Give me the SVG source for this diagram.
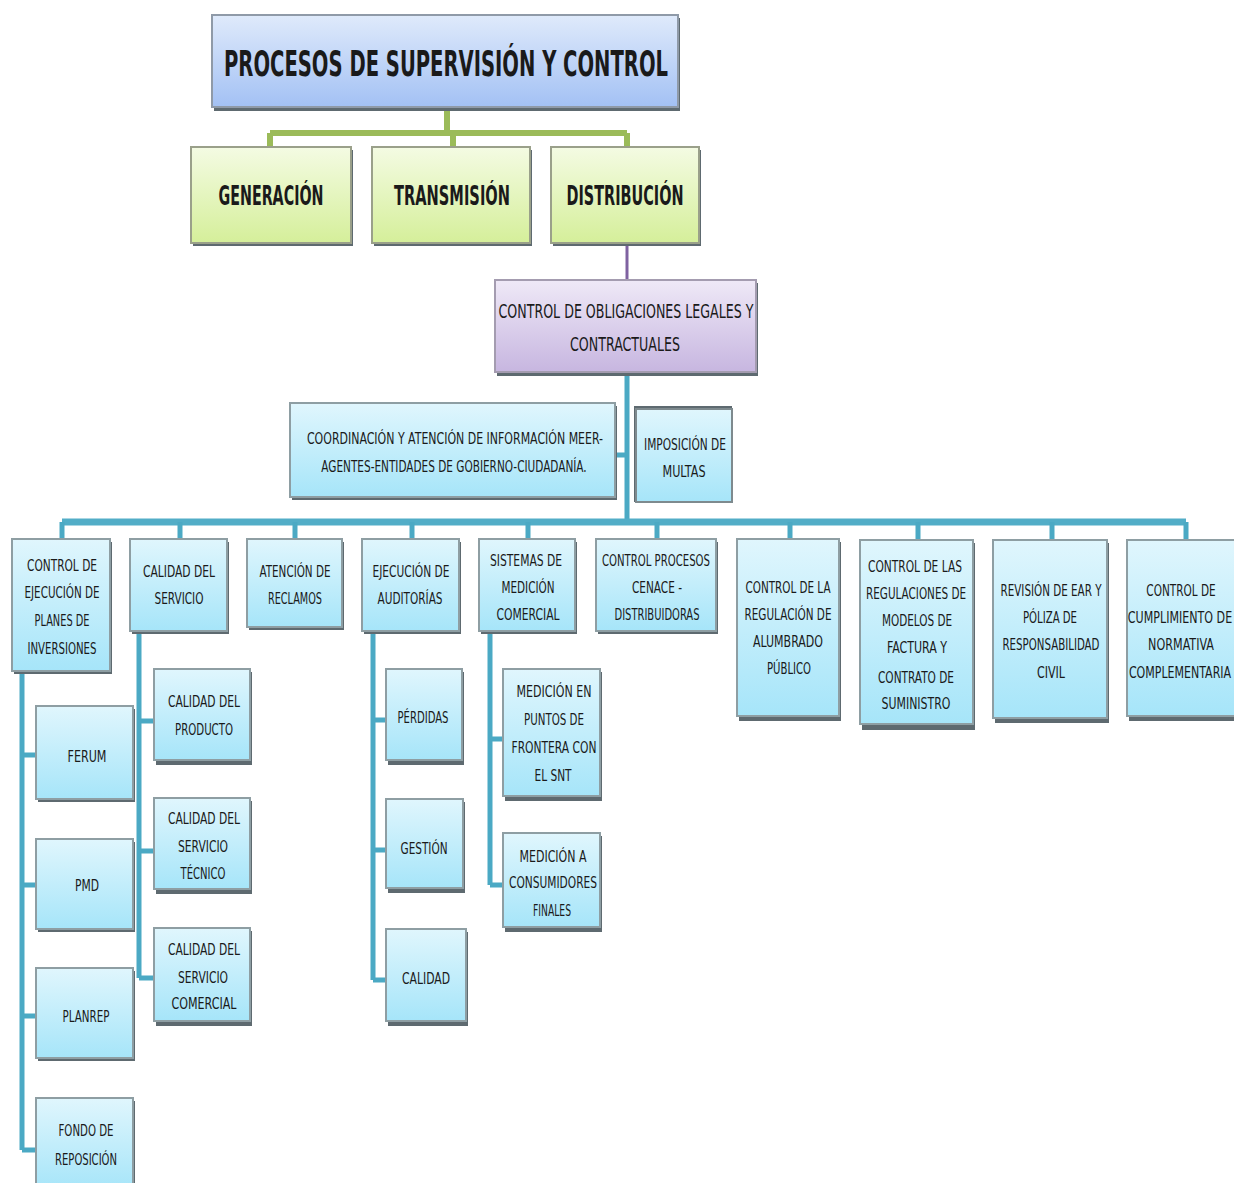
<svg xmlns="http://www.w3.org/2000/svg" width="1234" height="1183" viewBox="0 0 1234 1183">
  <defs>
    <linearGradient id="gBlue" x1="0" y1="0" x2="0" y2="1">
      <stop offset="0" stop-color="#e0f6fd"/>
      <stop offset="1" stop-color="#a6e5f9"/>
    </linearGradient>
    <linearGradient id="gTitle" x1="0" y1="0" x2="0" y2="1">
      <stop offset="0" stop-color="#dfeafb"/>
      <stop offset="1" stop-color="#a3c1f4"/>
    </linearGradient>
    <linearGradient id="gGreen" x1="0" y1="0" x2="0" y2="1">
      <stop offset="0" stop-color="#f4fbe3"/>
      <stop offset="1" stop-color="#d5ef9a"/>
    </linearGradient>
    <linearGradient id="gPurple" x1="0" y1="0" x2="0" y2="1">
      <stop offset="0" stop-color="#efe9f7"/>
      <stop offset="1" stop-color="#c7b6e0"/>
    </linearGradient>
  </defs>
  <style>
    .shadow { fill: #5e6a70; }
    .box { fill: url(#gBlue); stroke: #8e9ea3; stroke-width: 2; }
    .title { fill: url(#gTitle); stroke: #8f9aa8; stroke-width: 2; }
    .green { fill: url(#gGreen); stroke: #9aa08a; stroke-width: 2; }
    .purple { fill: url(#gPurple); stroke: #a49cb0; stroke-width: 2; }
    text { font-family: "DejaVu Sans Condensed", "Liberation Sans", sans-serif; fill: #1a1a1a; text-anchor: middle; }
    .t { font-size: 16px; }
    .big { font-size: 36px; font-weight: bold; }
    .mid { font-size: 26px; font-weight: bold; }
    .pt { font-size: 19px; }
    .teal { fill: none; stroke: #4ba9c4; stroke-width: 5; stroke-linejoin: miter; }
    .bus { fill: none; stroke: #52adc7; stroke-width: 7; }
    .gl { fill: none; stroke: #9bbb59; stroke-width: 6; }
    .pl { fill: none; stroke: #7f62a1; stroke-width: 3; }
  </style>

  <!-- connectors -->
  <g id="connectors">
    <path class="gl" d="M447 108 V133 M270 133 H627 M270 133 V147 M453 133 V147 M627 133 V147"/>
    <path class="pl" d="M627 243 V280"/>
    <path class="teal" d="M627 373 V522 M615 455 H627"/>
    <path class="bus" d="M62 522 H1186"/>
    <path class="teal" d="M62 522 V539 M180 522 V539 M295 522 V539 M412 522 V539 M528 522 V539 M657 522 V539 M790 522 V539 M918 522 V540 M1052 522 V540 M1186 522 V540"/>
    <path class="teal" d="M22 671 V1150 M22 755 H36 M22 885 H36 M22 1016 H36 M22 1150 H36"/>
    <path class="teal" d="M139 631 V978 M139 721 H154 M139 851 H154 M139 978 H154"/>
    <path class="teal" d="M373 631 V980 M373 720 H386 M373 850 H386 M373 980 H386"/>
    <path class="teal" d="M490 631 V885 M490 739 H503 M490 885 H503"/>
  </g>

  <!-- top level -->
  <g id="n-title">
    <rect class="shadow" x="214" y="18" width="466" height="93"/>
    <rect class="title" x="212" y="15" width="466" height="92"/>
    <text class="big" x="446" y="76" textLength="444" lengthAdjust="spacingAndGlyphs">PROCESOS DE SUPERVISIÓN Y CONTROL</text>
  </g>
  <g id="n-generacion">
    <rect class="shadow" x="193" y="150" width="160" height="96"/>
    <rect class="green" x="191" y="147" width="160" height="96"/>
    <text class="mid" x="271" y="205" textLength="105" lengthAdjust="spacingAndGlyphs">GENERACIÓN</text>
  </g>
  <g id="n-transmision">
    <rect class="shadow" x="374" y="150" width="158" height="96"/>
    <rect class="green" x="372" y="147" width="158" height="96"/>
    <text class="mid" x="452" y="205" textLength="116" lengthAdjust="spacingAndGlyphs">TRANSMISIÓN</text>
  </g>
  <g id="n-distribucion">
    <rect class="shadow" x="553" y="150" width="148" height="96"/>
    <rect class="green" x="551" y="147" width="148" height="96"/>
    <text class="mid" x="625" y="205" textLength="117" lengthAdjust="spacingAndGlyphs">DISTRIBUCIÓN</text>
  </g>
  <g id="n-obligaciones">
    <rect class="shadow" x="497" y="283" width="261" height="93"/>
    <rect class="purple" x="495" y="280" width="261" height="92"/>
    <text class="pt" x="626" y="318" textLength="255" lengthAdjust="spacingAndGlyphs">CONTROL DE OBLIGACIONES LEGALES Y</text>
    <text class="pt" x="625" y="351" textLength="110" lengthAdjust="spacingAndGlyphs">CONTRACTUALES</text>
  </g>
  <g id="n-coordinacion">
    <rect class="shadow" x="292" y="406" width="325" height="94"/>
    <rect class="box" x="290" y="403" width="325" height="94"/>
    <g transform="translate(455 444) scale(0.7 1)">
      <text class="t" x="0" y="0" textLength="423" lengthAdjust="spacingAndGlyphs">COORDINACIÓN  Y ATENCIÓN DE INFORMACIÓN  MEER-</text>
    </g>
    <g transform="translate(454 472) scale(0.7 1)">
      <text class="t" x="0" y="0" textLength="379" lengthAdjust="spacingAndGlyphs">AGENTES-ENTIDADES DE GOBIERNO-CIUDADANÍA.</text>
    </g>
  </g>
  <g id="n-multas">
    <rect class="shadow" x="634" y="406" width="98" height="96"/>
    <rect class="box" x="636" y="409" width="96" height="93" style="stroke:#7e8a8e"/>
    <text class="t" x="685" y="450" textLength="82" lengthAdjust="spacingAndGlyphs">IMPOSICIÓN  DE</text>
    <text class="t" x="684" y="477" textLength="43" lengthAdjust="spacingAndGlyphs">MULTAS</text>
  </g>

  <!-- second level -->
  <g id="n-planes">
    <rect class="shadow" x="14" y="542" width="98" height="132"/>
    <rect class="box" x="12" y="539" width="98" height="132"/>
    <text class="t" x="62" y="571" textLength="70" lengthAdjust="spacingAndGlyphs">CONTROL  DE</text>
    <text class="t" x="62" y="598" textLength="75" lengthAdjust="spacingAndGlyphs">EJECUCIÓN DE</text>
    <text class="t" x="62" y="626" textLength="55" lengthAdjust="spacingAndGlyphs">PLANES  DE</text>
    <text class="t" x="62" y="654" textLength="69" lengthAdjust="spacingAndGlyphs">INVERSIONES</text>
  </g>
  <g id="n-calidad-servicio">
    <rect class="shadow" x="132" y="542" width="97" height="92"/>
    <rect class="box" x="130" y="539" width="97" height="92"/>
    <text class="t" x="179" y="577" textLength="72" lengthAdjust="spacingAndGlyphs">CALIDAD DEL</text>
    <text class="t" x="179" y="604" textLength="49" lengthAdjust="spacingAndGlyphs">SERVICIO</text>
  </g>
  <g id="n-reclamos">
    <rect class="shadow" x="249" y="542" width="95" height="88"/>
    <rect class="box" x="247" y="539" width="95" height="88"/>
    <text class="t" x="295" y="577" textLength="71" lengthAdjust="spacingAndGlyphs">ATENCIÓN  DE</text>
    <text class="t" x="295" y="604" textLength="54" lengthAdjust="spacingAndGlyphs">RECLAMOS</text>
  </g>
  <g id="n-auditorias">
    <rect class="shadow" x="364" y="542" width="97" height="92"/>
    <rect class="box" x="362" y="539" width="97" height="92"/>
    <text class="t" x="411" y="577" textLength="77" lengthAdjust="spacingAndGlyphs">EJECUCIÓN  DE</text>
    <text class="t" x="410" y="604" textLength="65" lengthAdjust="spacingAndGlyphs">AUDITORÍAS</text>
  </g>
  <g id="n-medicion">
    <rect class="shadow" x="481" y="542" width="96" height="92"/>
    <rect class="box" x="479" y="539" width="96" height="92"/>
    <text class="t" x="526" y="566" textLength="72" lengthAdjust="spacingAndGlyphs">SISTEMAS DE</text>
    <text class="t" x="528" y="593" textLength="53" lengthAdjust="spacingAndGlyphs">MEDICIÓN</text>
    <text class="t" x="528" y="620" textLength="63" lengthAdjust="spacingAndGlyphs">COMERCIAL</text>
  </g>
  <g id="n-cenace">
    <rect class="shadow" x="598" y="542" width="120" height="92"/>
    <rect class="box" x="596" y="539" width="120" height="92"/>
    <text class="t" x="656" y="566" textLength="108" lengthAdjust="spacingAndGlyphs">CONTROL  PROCESOS</text>
    <text class="t" x="657" y="593" textLength="50" lengthAdjust="spacingAndGlyphs">CENACE -</text>
    <text class="t" x="657" y="620" textLength="85" lengthAdjust="spacingAndGlyphs">DISTRIBUIDORAS</text>
  </g>
  <g id="n-alumbrado">
    <rect class="shadow" x="739" y="542" width="102" height="179"/>
    <rect class="box" x="737" y="539" width="102" height="177"/>
    <text class="t" x="788" y="593" textLength="85" lengthAdjust="spacingAndGlyphs">CONTROL DE LA</text>
    <text class="t" x="788" y="620" textLength="87" lengthAdjust="spacingAndGlyphs">REGULACIÓN  DE</text>
    <text class="t" x="788" y="647" textLength="70" lengthAdjust="spacingAndGlyphs">ALUMBRADO</text>
    <text class="t" x="789" y="674" textLength="44" lengthAdjust="spacingAndGlyphs">PÚBLICO</text>
  </g>
  <g id="n-factura">
    <rect class="shadow" x="862" y="543" width="113" height="187"/>
    <rect class="box" x="860" y="540" width="113" height="184"/>
    <text class="t" x="915" y="572" textLength="94" lengthAdjust="spacingAndGlyphs">CONTROL  DE   LAS</text>
    <text class="t" x="916" y="599" textLength="100" lengthAdjust="spacingAndGlyphs">REGULACIONES   DE</text>
    <text class="t" x="917" y="626" textLength="70" lengthAdjust="spacingAndGlyphs">MODELOS  DE</text>
    <text class="t" x="917" y="653" textLength="60" lengthAdjust="spacingAndGlyphs">FACTURA  Y</text>
    <text class="t" x="916" y="683" textLength="76" lengthAdjust="spacingAndGlyphs">CONTRATO  DE</text>
    <text class="t" x="916" y="709" textLength="69" lengthAdjust="spacingAndGlyphs">SUMINISTRO</text>
  </g>
  <g id="n-ear">
    <rect class="shadow" x="995" y="543" width="114" height="180"/>
    <rect class="box" x="993" y="540" width="114" height="178"/>
    <text class="t" x="1051" y="596" textLength="101" lengthAdjust="spacingAndGlyphs">REVISIÓN DE  EAR Y</text>
    <text class="t" x="1050" y="623" textLength="54" lengthAdjust="spacingAndGlyphs">PÓLIZA DE</text>
    <text class="t" x="1051" y="650" textLength="97" lengthAdjust="spacingAndGlyphs">RESPONSABILIDAD</text>
    <text class="t" x="1051" y="678" textLength="28" lengthAdjust="spacingAndGlyphs">CIVIL</text>
  </g>
  <g id="n-normativa">
    <rect class="shadow" x="1129" y="543" width="110" height="178"/>
    <rect class="box" x="1127" y="540" width="110" height="176"/>
    <g transform="translate(1181 596) scale(0.7 1)">
      <text class="t" x="0" y="0" textLength="99" lengthAdjust="spacingAndGlyphs">CONTROL  DE</text>
    </g>
    <g transform="translate(1180 623) scale(0.7 1)">
      <text class="t" x="0" y="0" textLength="149" lengthAdjust="spacingAndGlyphs">CUMPLIMIENTO  DE</text>
    </g>
    <g transform="translate(1181 650) scale(0.7 1)">
      <text class="t" x="0" y="0" textLength="94" lengthAdjust="spacingAndGlyphs">NORMATIVA</text>
    </g>
    <g transform="translate(1180 678) scale(0.7 1)">
      <text class="t" x="0" y="0" textLength="146" lengthAdjust="spacingAndGlyphs">COMPLEMENTARIA</text>
    </g>
  </g>

  <!-- investment plans -->
  <g id="n-ferum">
    <rect class="shadow" x="38" y="709" width="97" height="93"/>
    <rect class="box" x="36" y="706" width="97" height="93"/>
    <text class="t" x="87" y="762" textLength="39" lengthAdjust="spacingAndGlyphs">FERUM</text>
  </g>
  <g id="n-pmd">
    <rect class="shadow" x="38" y="842" width="97" height="90"/>
    <rect class="box" x="36" y="839" width="97" height="90"/>
    <text class="t" x="87" y="891" textLength="24" lengthAdjust="spacingAndGlyphs">PMD</text>
  </g>
  <g id="n-planrep">
    <rect class="shadow" x="38" y="971" width="97" height="90"/>
    <rect class="box" x="36" y="968" width="97" height="90"/>
    <text class="t" x="86" y="1022" textLength="47" lengthAdjust="spacingAndGlyphs">PLANREP</text>
  </g>
  <g id="n-fondo">
    <rect class="shadow" x="38" y="1101" width="97" height="92"/>
    <rect class="box" x="36" y="1098" width="97" height="92"/>
    <text class="t" x="86" y="1136" textLength="55" lengthAdjust="spacingAndGlyphs">FONDO DE</text>
    <text class="t" x="86" y="1165" textLength="62" lengthAdjust="spacingAndGlyphs">REPOSICIÓN</text>
  </g>

  <!-- service quality -->
  <g id="n-producto">
    <rect class="shadow" x="156" y="672" width="96" height="93"/>
    <rect class="box" x="154" y="669" width="96" height="91"/>
    <text class="t" x="204" y="707" textLength="72" lengthAdjust="spacingAndGlyphs">CALIDAD DEL</text>
    <text class="t" x="204" y="735" textLength="58" lengthAdjust="spacingAndGlyphs">PRODUCTO</text>
  </g>
  <g id="n-tecnico">
    <rect class="shadow" x="156" y="801" width="96" height="93"/>
    <rect class="box" x="154" y="798" width="96" height="91"/>
    <text class="t" x="204" y="824" textLength="72" lengthAdjust="spacingAndGlyphs">CALIDAD DEL</text>
    <text class="t" x="203" y="852" textLength="50" lengthAdjust="spacingAndGlyphs">SERVICIO</text>
    <text class="t" x="203" y="879" textLength="45" lengthAdjust="spacingAndGlyphs">TÉCNICO</text>
  </g>
  <g id="n-comercial">
    <rect class="shadow" x="156" y="931" width="96" height="95"/>
    <rect class="box" x="154" y="928" width="96" height="93"/>
    <text class="t" x="204" y="955" textLength="72" lengthAdjust="spacingAndGlyphs">CALIDAD DEL</text>
    <text class="t" x="203" y="983" textLength="50" lengthAdjust="spacingAndGlyphs">SERVICIO</text>
    <text class="t" x="204" y="1009" textLength="65" lengthAdjust="spacingAndGlyphs">COMERCIAL</text>
  </g>

  <!-- audits -->
  <g id="n-perdidas">
    <rect class="shadow" x="388" y="672" width="76" height="93"/>
    <rect class="box" x="386" y="669" width="76" height="91"/>
    <text class="t" x="423" y="723" textLength="51" lengthAdjust="spacingAndGlyphs">PÉRDIDAS</text>
  </g>
  <g id="n-gestion">
    <rect class="shadow" x="388" y="802" width="77" height="91"/>
    <rect class="box" x="386" y="799" width="77" height="89"/>
    <text class="t" x="424" y="854" textLength="47" lengthAdjust="spacingAndGlyphs">GESTIÓN</text>
  </g>
  <g id="n-calidad">
    <rect class="shadow" x="388" y="932" width="80" height="94"/>
    <rect class="box" x="386" y="929" width="80" height="92"/>
    <text class="t" x="426" y="984" textLength="48" lengthAdjust="spacingAndGlyphs">CALIDAD</text>
  </g>

  <!-- commercial metering -->
  <g id="n-frontera">
    <rect class="shadow" x="505" y="672" width="97" height="129"/>
    <rect class="box" x="503" y="669" width="97" height="127"/>
    <text class="t" x="554" y="697" textLength="75" lengthAdjust="spacingAndGlyphs">MEDICIÓN  EN</text>
    <text class="t" x="554" y="725" textLength="60" lengthAdjust="spacingAndGlyphs">PUNTOS  DE</text>
    <text class="t" x="554" y="753" textLength="85" lengthAdjust="spacingAndGlyphs">FRONTERA  CON</text>
    <text class="t" x="553" y="781" textLength="37" lengthAdjust="spacingAndGlyphs">EL SNT</text>
  </g>
  <g id="n-consumidores">
    <rect class="shadow" x="505" y="836" width="97" height="96"/>
    <rect class="box" x="503" y="833" width="97" height="94"/>
    <text class="t" x="553" y="862" textLength="67" lengthAdjust="spacingAndGlyphs">MEDICIÓN A</text>
    <text class="t" x="553" y="888" textLength="88" lengthAdjust="spacingAndGlyphs">CONSUMIDORES</text>
    <text class="t" x="552" y="916" textLength="38" lengthAdjust="spacingAndGlyphs">FINALES</text>
  </g>
</svg>
